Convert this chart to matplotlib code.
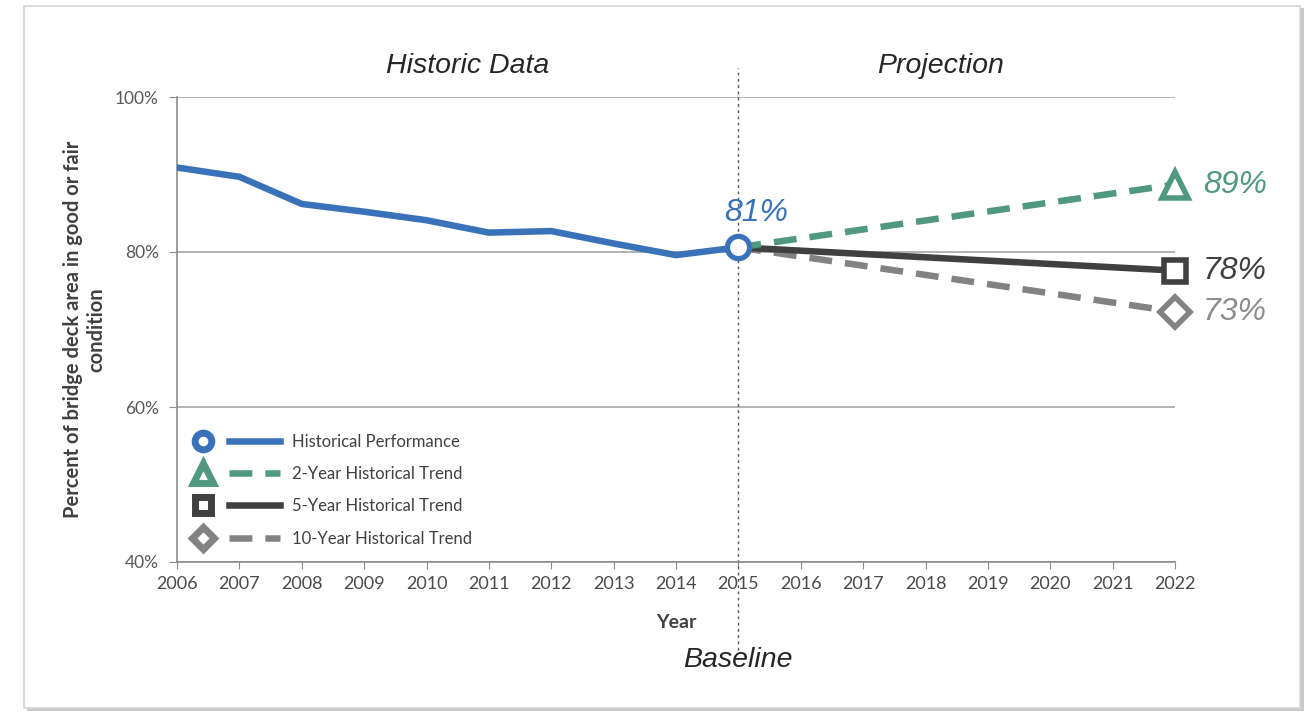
import matplotlib
matplotlib.use("Agg")
from matplotlib import pyplot as plt
from matplotlib.lines import Line2D
from matplotlib.legend_handler import HandlerTuple
from matplotlib.patches import Rectangle

# data
hist_years = [2006, 2007, 2008, 2009, 2010, 2011, 2012, 2013, 2014, 2015]
hist_values = [90.9, 89.7, 86.2, 85.2, 84.1, 82.5, 82.7, 81.1, 79.6, 80.6]

proj_years = [2015, 2022]
trend_2yr = [80.6, 88.7]
trend_5yr = [80.6, 77.6]
trend_10yr = [80.6, 72.3]
end_labels = ['89%', '78%', '73%']
baseline_label = '81%'

legend_names = ['Historical Performance', '2-Year Historical Trend',
                '5-Year Historical Trend', '10-Year Historical Trend']

blue = '#3A72B9'
green = '#519880'
dark = '#404040'
grey = '#828282'

W, H = 1310, 714
fig = plt.figure(figsize=(W / 100, H / 100), dpi=100)

# picture frame with a small shadow
fig.patches.append(Rectangle((27 / W, 3 / H), 1277 / W, 703 / H, transform=fig.transFigure,
                             facecolor='#C9C9C9', edgecolor='none', zorder=-10))
fig.patches.append(Rectangle((24 / W, 6 / H), 1276 / W, 702 / H, transform=fig.transFigure,
                             facecolor='white', edgecolor='#D4D4D4', linewidth=1.2, zorder=-9))

ax = fig.add_axes([177 / W, 1 - 562 / H, 998 / W, 465 / H])
ax.set_facecolor('none')

dash = (3.5, 2.0)
lw = 4.7

ax.plot(hist_years, hist_values, color=blue, linewidth=lw, solid_joinstyle='round', zorder=4)
ax.plot(proj_years, trend_10yr, color=grey, linewidth=lw, dashes=dash, zorder=3)
ax.plot(proj_years, trend_5yr, color=dark, linewidth=lw, zorder=3)
ax.plot(proj_years, trend_2yr, color=green, linewidth=lw, dashes=dash, zorder=3)

# end markers
ax.plot(proj_years[-1], trend_2yr[-1], marker='^', ms=19, mfc='white', mec=green, mew=4,
        clip_on=False, zorder=6)
ax.plot(proj_years[-1], trend_5yr[-1], marker='s', ms=16, mfc='white', mec=dark, mew=4,
        clip_on=False, zorder=6)
ax.plot(proj_years[-1], trend_10yr[-1], marker='D', ms=15, mfc='white', mec=grey, mew=4,
        clip_on=False, zorder=6)
ax.plot(hist_years[-1], hist_values[-1], marker='o', ms=16, mfc='white', mec=blue, mew=3.8,
        clip_on=False, zorder=7)

lab_font = dict(family='Liberation Sans', style='italic', fontsize=23)
for vals, txt, col in zip([trend_2yr, trend_5yr, trend_10yr], end_labels, [green, dark, '#8C8C8C']):
    ax.annotate(txt, (proj_years[-1], vals[-1]), xytext=(20, 0), textcoords='offset points',
                va='center', ha='left', color=col, annotation_clip=False, **lab_font)
ax.annotate(baseline_label, (hist_years[-1], hist_values[-1]), xytext=(13, 25),
            textcoords='offset points', ha='center', va='center', color=blue, **lab_font)

# baseline divider
ax.axvline(2015, ymin=-0.19, ymax=1.062, color='#555555', linewidth=1, linestyle=(0, (2, 2.5)),
           clip_on=False, zorder=2)

ax.set_xlim(2006, 2022)
ax.set_ylim(40, 100)
ax.set_xticks(range(2006, 2023))
ax.set_yticks([40, 60, 80, 100])
ax.set_yticklabels([f'{v}%' for v in [40, 60, 80, 100]])
ax.yaxis.grid(True, color='#A6A6A6', linewidth=1.2)
ax.set_axisbelow(True)
for s in ['top', 'right']:
    ax.spines[s].set_visible(False)
for s in ['left', 'bottom']:
    ax.spines[s].set_color('#8C8C8C')
    ax.spines[s].set_linewidth(1.2)
ax.tick_params(axis='x', direction='out', length=5, color='#8C8C8C', labelsize=13,
               labelcolor='#4A4A4A', pad=5)
ax.tick_params(axis='y', length=6, color='#8C8C8C', labelsize=12.5, labelcolor='#595959', pad=7)
for t in ax.get_xticklabels() + ax.get_yticklabels():
    t.set_family('Lato')

ax.set_xlabel('Year', fontsize=14, fontweight='bold', color='#404040', family='Lato')
ax.xaxis.set_label_coords(0.5, -0.111)
ax.set_ylabel('Percent of bridge deck area in good or fair\ncondition', fontsize=14.5,
              fontweight='bold', color='#404040', family='Lato', linespacing=1.2)
ax.yaxis.set_label_coords(-0.071, 0.5)

# section titles
sec_font = dict(family='Liberation Sans', style='italic', fontsize=20.5, color='#262626')
fig.text(468 / W, 1 - 66 / H, 'Historic Data', ha='center', va='center', **sec_font)
fig.text(941 / W, 1 - 66 / H, 'Projection', ha='center', va='center', **sec_font)
fig.text(738 / W, 1 - 660 / H, 'Baseline', ha='center', va='center', **sec_font)

# legend: marker, then line
styles = [(blue, 'o', None, 12), (green, '^', dash, 14), (dark, 's', None, 12), (grey, 'D', dash, 11)]
handles = []
for col, mk, ds, ms in styles:
    m = Line2D([], [], linestyle='none', marker=mk, ms=ms, mfc='white', mec=col, mew=5)
    if ds is None:
        ln = Line2D([], [], color=col, linewidth=lw)
    else:
        ln = Line2D([], [], color=col, linewidth=lw, dashes=ds)
    handles.append((m, ln))
leg = ax.legend(handles, legend_names, handler_map={tuple: HandlerTuple(ndivide=None, pad=0)},
                loc='lower left', bbox_to_anchor=(0.0, 0.033), frameon=False, borderpad=0,
                borderaxespad=0, handlelength=6.2, handletextpad=0.7, labelspacing=0.98,
                prop={'family': 'Lato', 'size': 12})
for t in leg.get_texts():
    t.set_color('#404040')

fig.savefig('out.png', dpi=100)
